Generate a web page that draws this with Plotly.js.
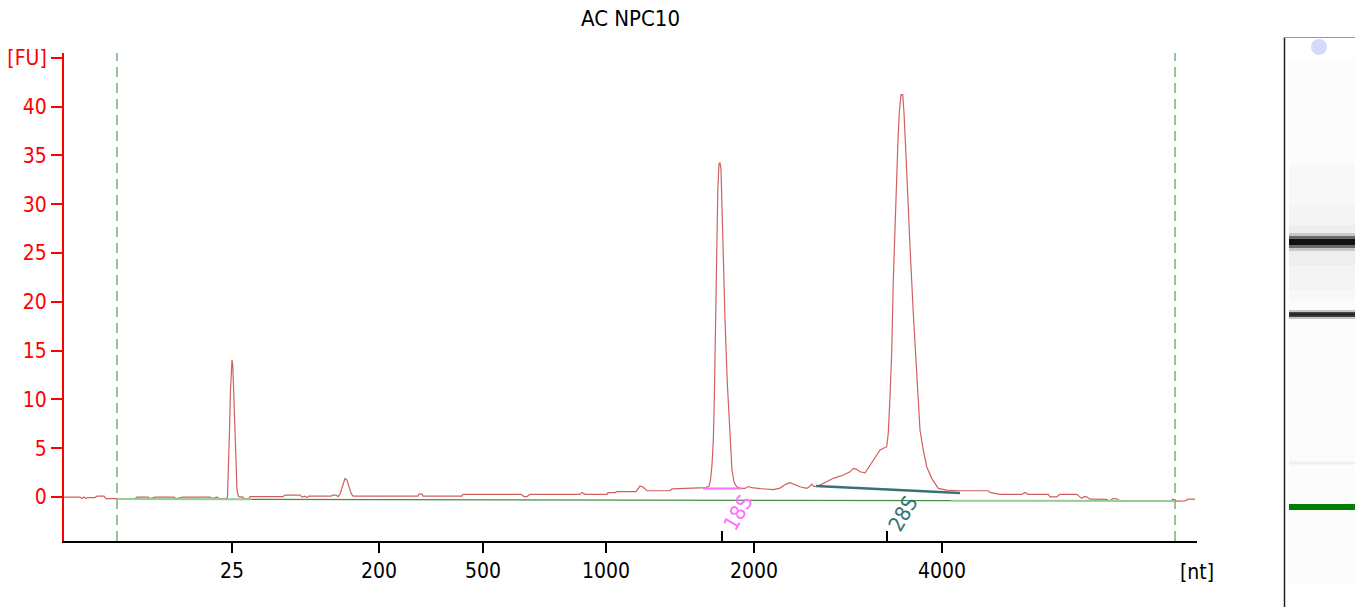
<!DOCTYPE html>
<html>
<head>
<meta charset="utf-8">
<script src="https://cdn.plot.ly/plotly-3.0.1.min.js"></script>
<style>html,body{margin:0;padding:0;background:#fff;}#chart{width:1355px;height:607px;}</style>
</head>
<body>
<div id="chart"></div>
<script>
// ---- Data (migration time in s, fluorescence in FU) ----
const sizeLabels = ['25', '200', '500', '1000', '2000', '4000'];
const sizeTimes  = [25.4, 32.75, 37.95, 44.1, 51.5, 60.9];

const traceTime = [17.0,17.8,17.9,18.0,18.1,18.2,18.55,18.65,19.0,19.1,19.65,20.55,20.65,21.2,21.3,21.55,22.5,22.6,22.95,24.3,24.4,24.65,24.75,25.1,
  25.175,25.225,25.275,25.325,25.365,25.4,25.44,25.5,25.55,25.6,25.65,25.725,25.95,26.0,26.25,26.3,27.95,28.05,28.8,28.9,29.05,29.15,29.25,30.35,30.45,30.6,30.7,
  30.8,30.875,30.95,31.05,31.15,31.25,31.35,31.45,34.7,34.75,34.9,34.95,36.9,36.95,39.85,40.0,40.15,40.3,42.8,42.9,43.05,44.15,44.2,44.55,44.65,45.6,45.8,45.95,46.15,46.3,47.3,47.4,48.885,
  49.1,49.25,49.325,49.4,49.465,49.515,49.55,49.6,49.64,49.69,49.75,49.8,49.85,49.9,49.965,50.05,50.165,50.25,50.325,50.4,50.5,50.635,50.8,51.05,51.2,51.4,51.8,52.45,52.8,53.1,53.3,53.5,53.8,54.135,54.25,54.385,54.5,54.635,
  54.8,55.1,55.465,55.965,56.3,56.465,56.635,56.8,57.05,57.25,57.465,57.8,58.135,58.215,58.3,58.385,58.465,58.55,58.635,58.7,58.765,58.85,58.935,59.0,59.075,59.165,59.3,59.465,59.635,59.8,59.965,60.135,60.385,60.715,61.135,61.8,
  63.215,63.3,63.8,64.885,65.05,65.215,66.215,66.3,66.635,66.8,67.635,67.885,68.0,68.135,68.3,69.135,69.265,69.45,69.635,69.8,72.385,72.425,72.635,73.05,73.215,73.55];
const traceFU = [0,0,-0.15,0,-0.15,-0.05,-0.05,0.1,0.1,-0.15,-0.15,-0.15,0,0,-0.15,0,0,-0.15,0,0,-0.15,0,-0.15,-0.15,
  0,2.77,6.87,10.97,13.54,14.05,13.44,9.95,5.85,2.26,0.72,0.05,0,-0.15,-0.15,0.05,0.05,0.2,0.2,0,0.1,-0.05,0.1,0.1,0.2,0.2,0.05,
  0.3,0.82,1.44,1.9,1.74,1.03,0.41,0.1,0.1,0.3,0.3,0.1,0.1,0.28,0.28,0.05,0.05,0.28,0.28,0.48,0.28,0.28,0.46,0.46,0.56,0.56,1.13,1.03,0.65,0.65,0.65,0.85,0.89,
  0.97,1.13,1.74,3.28,5.85,9.95,15.08,21.95,27.38,31.49,34.15,34.26,33.54,29.44,25.33,18.15,11.69,7.9,4.82,2.77,1.54,1.06,0.89,0.89,1.08,0.97,0.87,0.77,0.92,1.33,1.47,1.28,1.06,0.89,1.03,1.33,1.08,1.13,
  1.23,1.54,1.92,2.26,2.59,2.94,2.84,2.59,2.49,3.08,3.79,4.82,5.16,6.56,10.29,14.77,22.26,27.9,32.51,36.62,39.38,41.23,41.23,39.38,36.1,32.51,25.67,18.84,12.0,6.87,4.82,3.11,1.92,0.89,0.72,0.65,
  0.65,0.48,0.28,0.28,0.48,0.28,0.28,0.03,0.03,0.28,0.28,-0.13,0.05,0.03,-0.21,-0.24,-0.41,-0.15,-0.17,-0.41,-0.41,-0.21,-0.41,-0.38,-0.21,-0.21];

// baseline segments
const baseLightL = {t: [19.65, 26.35], fu: [-0.2, -0.23]};
const baseDark   = {t: [26.35, 61.35], fu: [-0.23, -0.37]};
const baseLightR = {t: [61.35, 72.55], fu: [-0.37, -0.41]};

// marker (lower/upper) lines
const markerLines = [19.65, 72.55];

// rRNA peaks
const peakNames = ['18S', '28S'];
const peakTimes = [49.9, 58.15];
const peakBaseT = [[48.95, 50.9], [54.6, 61.8]];
const peakBaseFU = [[0.89, 0.89], [1.13, 0.41]];
const peakLabelT = [50.7, 58.95];
const peakLabelFU = [-1.6, -1.7];
const peakColors = ['rgb(255,110,255)', 'rgb(55,115,115)'];

const yTicks = [0, 5, 10, 15, 20, 25, 30, 35, 40, 45];
const yTickText = ['0', '5', '10', '15', '20', '25', '30', '35', '40', '[FU]'];

// ---- Layout helpers ----
const FONT = '"DejaVu Sans Condensed", "Liberation Sans", sans-serif';
const L = 64, R = 1197, T = 53, B = 541;
const px = x => (x - L) / (R - L);
const py = y => (B - y) / (B - T);

const traces = [];
traces.push({x: traceTime, y: traceFU, mode: 'lines', line: {color: 'rgb(210,95,95)', width: 1.2}, hoverinfo: 'skip'});
[[baseLightL, 'rgb(150,205,150)', 2], [baseDark, 'rgb(70,140,70)', 1.2], [baseLightR, 'rgb(150,205,150)', 2]].forEach(([b, c, w]) => {
  traces.push({x: b.t, y: b.fu, mode: 'lines', line: {color: c, width: w}, hoverinfo: 'skip'});
});
peakNames.forEach((n, i) => {
  traces.push({x: peakBaseT[i], y: peakBaseFU[i], mode: 'lines', line: {color: peakColors[i], width: i === 0 ? 2 : 2.5}, hoverinfo: 'skip'});
});
// invisible trace for overlay axis
traces.push({x: peakTimes, y: [null, null], xaxis: 'x2', mode: 'lines', hoverinfo: 'skip'});

const shapes = [];
markerLines.forEach(t => shapes.push({type: 'line', xref: 'x', yref: 'paper', x0: t, x1: t, y0: 0, y1: 1,
  line: {color: 'rgb(50,140,50)', width: 1, dash: '10px,6px'}, layer: 'below'}));

// gel lane (decoration)
const gx0 = px(1289), gx1 = px(1360);
const rect = (y0, y1, color, x0 = gx0, x1 = gx1) => shapes.push({type: 'rect', xref: 'paper', yref: 'paper', x0, x1, y0: py(y1), y1: py(y0), fillcolor: color, line: {width: 0}});
rect(37, 610, '#ffffff', px(1284), gx1);
rect(60, 585, '#fcfcfc');
rect(165, 300, '#f8f8f8');
rect(205, 290, '#f4f4f4');
rect(225, 265, '#eeeeee');
rect(233, 251, '#c8c8c8');
rect(236, 248, '#6a6a6a');
rect(239, 245, '#111111');
rect(310, 319, '#c4c4c4');
rect(312, 317, '#444444');
rect(313.5, 315.5, '#222222');
rect(461.5, 464.5, '#efefef');
rect(504, 510, '#008000');
shapes.push({type: 'line', xref: 'paper', yref: 'paper', x0: px(1284.5), x1: px(1284.5), y0: py(37), y1: py(610), line: {color: '#222', width: 1.5}});
shapes.push({type: 'line', xref: 'paper', yref: 'paper', x0: px(1284), x1: px(1360), y0: py(37.5), y1: py(37.5), line: {color: '#999', width: 1}});
shapes.push({type: 'circle', xref: 'paper', yref: 'paper', x0: px(1311), x1: px(1327), y0: py(55), y1: py(39), fillcolor: '#d8d8fb', line: {width: 0}});

const annotations = [];
peakNames.forEach((n, i) => annotations.push({x: peakLabelT[i], y: peakLabelFU[i], xref: 'x', yref: 'y', text: n, showarrow: false,
  textangle: -60, font: {family: FONT, size: 21, color: peakColors[i]}}));
annotations.push({x: 1, y: py(572), xref: 'paper', yref: 'paper', text: '[nt]', showarrow: false, xanchor: 'center', yanchor: 'middle',
  font: {family: FONT, size: 21, color: '#000'}});

const layout = {
  width: 1355, height: 607,
  margin: {l: L, r: 1355 - R, t: T, b: 607 - B, pad: 0},
  paper_bgcolor: '#fff', plot_bgcolor: '#fff',
  showlegend: false,
  font: {family: FONT},
  title: {text: 'AC NPC10', xref: 'paper', x: 0.5, xanchor: 'center', yref: 'container', y: 1 - 18 / 607, yanchor: 'middle',
    font: {family: FONT, size: 22, color: '#000'}},
  xaxis: {range: [17, 73.65], tickmode: 'array', tickvals: sizeTimes, ticktext: sizeLabels, ticks: 'outside', ticklen: 10, tickwidth: 2,
    tickcolor: '#000', showline: true, linecolor: '#000', linewidth: 2, showgrid: false, zeroline: false,
    tickfont: {family: FONT, size: 21, color: '#000'}, fixedrange: true},
  xaxis2: {range: [17, 73.65], overlaying: 'x', anchor: 'y', side: 'bottom', tickmode: 'array', tickvals: peakTimes, ticks: 'inside',
    ticklen: 10, tickwidth: 2, tickcolor: '#000', showticklabels: false, showline: false, showgrid: false, zeroline: false, fixedrange: true},
  yaxis: {range: [-4.5, 45.5], tickmode: 'array', tickvals: yTicks, ticktext: yTickText, ticks: 'outside', ticklen: 11, tickwidth: 2,
    tickcolor: '#ff0000', showline: true, linecolor: '#ff0000', linewidth: 2, showgrid: false, zeroline: false,
    tickfont: {family: FONT, size: 21, color: '#ff0000'}, fixedrange: true},
  shapes: shapes,
  annotations: annotations
};

Plotly.newPlot('chart', traces, layout, {staticPlot: true, displayModeBar: false});
</script>
</body>
</html>
